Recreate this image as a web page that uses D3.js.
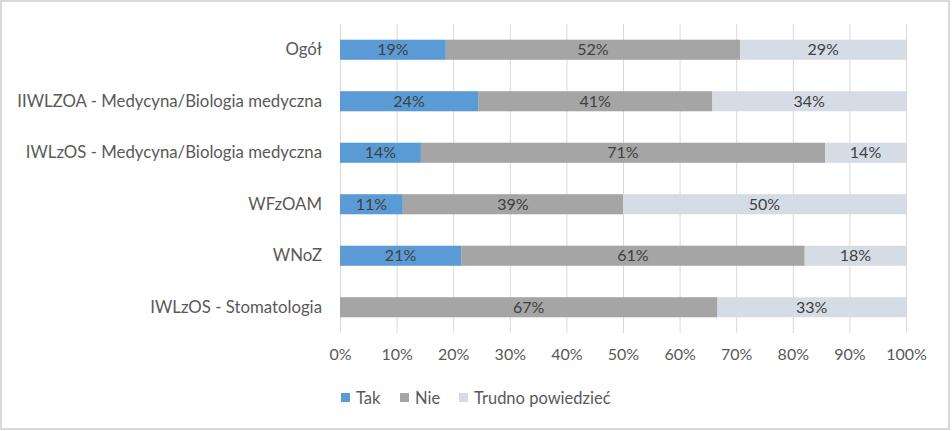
<!DOCTYPE html>
<html>
<head>
<meta charset="utf-8">
<script src="https://cdn.jsdelivr.net/npm/d3@7"></script>
<style>
  body { margin: 0; background: #fff; }
  svg { display: block; font-family: Lato, "Open Sans", sans-serif; }
</style>
</head>
<body>
<svg></svg>
<script>
var categories = ["Ogół", "IIWLZOA - Medycyna/Biologia medyczna", "IWLzOS - Medycyna/Biologia medyczna", "WFzOAM", "WNoZ", "IWLzOS - Stomatologia"];
var seriesNames = ["Tak", "Nie", "Trudno powiedzieć"];
var tak = [18.7, 24.4, 14.3, 11.1, 21.4, 0];
var nie = [52.0, 41.4, 71.4, 38.9, 60.7, 66.7];
var trudno = [29.3, 34.2, 14.3, 50.0, 17.9, 33.3];
var tickValues = [0, 10, 20, 30, 40, 50, 60, 70, 80, 90, 100];
var colors = ["#5b9bd5", "#a5a5a5", "#d6dce5"];

var width = 952, height = 431;
var fontSize = 16;
var svg = d3.select("svg").attr("width", width).attr("height", height);

// chart border
svg.append("rect")
   .attr("x", 1).attr("y", 1)
   .attr("width", width - 4).attr("height", height - 3)
   .attr("fill", "#fff")
   .attr("stroke", "#d9d9d9")
   .attr("stroke-width", 2);

var plotLeft = 340, plotRight = 906, plotTop = 24, plotBottom = 333;

var x = d3.scaleLinear().domain([0, 100]).range([plotLeft, plotRight]);
var y = d3.scaleBand().domain(categories).range([plotTop, plotBottom]).paddingInner(0.61).paddingOuter(0.305);

var rows = categories.map(function(c, i) {
  return { cat: c, Tak: tak[i], Nie: nie[i], "Trudno powiedzieć": trudno[i] };
});
var stacked = d3.stack().keys(seriesNames)(rows);

// gridlines
svg.append("g")
   .selectAll("line")
   .data(tickValues)
   .enter().append("line")
   .attr("x1", function(d) { return x(d) + 0.5; })
   .attr("x2", function(d) { return x(d) + 0.5; })
   .attr("y1", plotTop)
   .attr("y2", plotBottom)
   .attr("stroke", "#d9d9d9")
   .attr("stroke-width", 1);

// bars
var layer = svg.append("g").selectAll("g")
   .data(stacked)
   .enter().append("g")
   .attr("fill", function(d, i) { return colors[i]; });

layer.selectAll("rect")
   .data(function(d) { return d; })
   .enter().append("rect")
   .attr("x", function(d) { return x(d[0]); })
   .attr("width", function(d) { return x(d[1]) - x(d[0]); })
   .attr("y", function(d) { return y(d.data.cat); })
   .attr("height", y.bandwidth());

layer.selectAll("text")
   .data(function(d) { return d.filter(function(s) { return s[1] - s[0] > 0; }); })
   .enter().append("text")
   .attr("x", function(d) { return (x(d[0]) + x(d[1])) / 2; })
   .attr("y", function(d) { return y(d.data.cat) + y.bandwidth() / 2; })
   .attr("dy", "0.35em")
   .attr("text-anchor", "middle")
   .attr("fill", "#404040")
   .attr("font-size", fontSize)
   .text(function(d) { return Math.round(d[1] - d[0]) + "%"; });

// category labels
var yAxis = svg.append("g")
   .attr("transform", "translate(" + (plotLeft - 18) + ",0)")
   .call(d3.axisLeft(y).tickSize(0).tickPadding(0));
yAxis.select(".domain").remove();
yAxis.selectAll("text")
   .attr("font-size", 16.8)
   .attr("font-family", "Lato, sans-serif")
   .attr("fill", "#595959");

// x axis labels
var xAxis = svg.append("g")
   .attr("transform", "translate(0," + plotBottom + ")")
   .call(d3.axisBottom(x).tickValues(tickValues).tickSize(0).tickPadding(16).tickFormat(function(d) { return d + "%"; }));
xAxis.select(".domain").remove();
xAxis.selectAll("text")
   .attr("font-size", fontSize)
   .attr("font-family", "Lato, sans-serif")
   .attr("fill", "#595959");

// legend
var legendX = [341, 400, 459];
var legend = svg.append("g").selectAll("g")
   .data(seriesNames)
   .enter().append("g")
   .attr("transform", function(d, i) { return "translate(" + legendX[i] + ",398)"; });
legend.append("rect")
   .attr("x", 0).attr("y", -5)
   .attr("width", 9).attr("height", 9)
   .attr("fill", function(d, i) { return colors[i]; });
legend.append("text")
   .attr("x", 15)
   .attr("dy", "0.35em")
   .attr("font-size", 16.5)
   .attr("fill", "#595959")
   .text(function(d) { return d; });
</script>
</body>
</html>
